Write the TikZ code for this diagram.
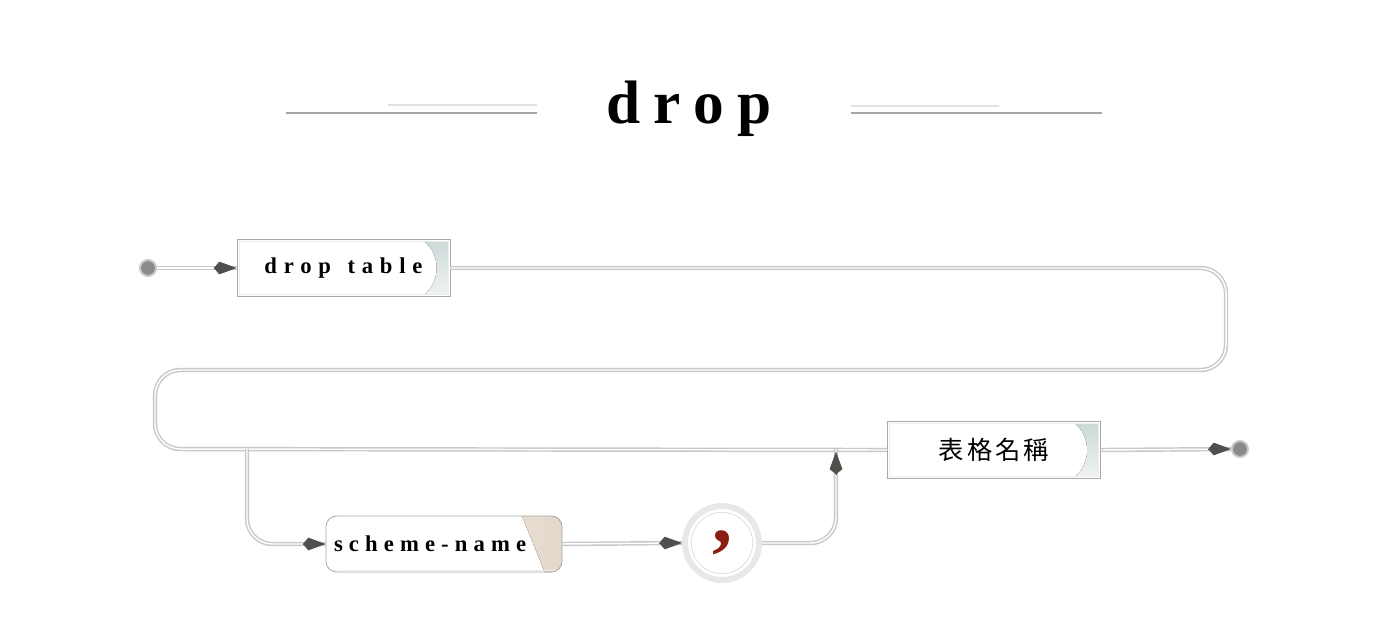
\documentclass[tikz,border=0pt]{standalone}
\usepackage{fontspec}
\setmainfont{Liberation Serif}
\newfontfamily\railfont[LetterSpace=30]{Liberation Serif}
\newfontfamily\headfont[LetterSpace=22]{Liberation Serif}
\newfontfamily\cjkfont[LetterSpace=12]{Noto Sans CJK TC}
\usetikzlibrary{arrows.meta,calc,shadings}

\definecolor{railgray}{HTML}{C8C8C8}
\definecolor{tipgray}{HTML}{4F504C}
\definecolor{dotgray}{HTML}{8A8A8A}
\definecolor{boxline}{HTML}{A8A8A8}
\definecolor{tealtint}{HTML}{CBD9D7}
\definecolor{sandtint}{HTML}{E5D7CB}
\definecolor{commared}{HTML}{8B1E12}

\tikzset{
  track/.style={draw=railgray, double=white, double distance=1.1pt,
    line width=1.1pt, rounded corners=19pt},
  tip/.style={-{Kite[length=17pt,width=9.5pt,inset=4pt]}, draw=tipgray,
    fill=tipgray, line width=0.4pt},
  termdot/.style={circle, fill=dotgray, draw=railgray, line width=1.5pt,
    minimum size=12pt, inner sep=0pt},
  titlerule/.style={line width=1.5pt, draw=gray!70},
  titlethin/.style={line width=1pt, draw=gray!22},
  keybox/.style={rectangle, draw=boxline, line width=0.6pt,
    minimum width=159.75pt, minimum height=42.75pt, inner sep=0pt,
    path picture={
      \fill[top color=tealtint, bottom color=tealtint!30]
        ($(path picture bounding box.north east)+(-19pt,-1.5pt)$)
        .. controls +(12pt,-10pt) and +(12pt,10pt) ..
        ($(path picture bounding box.south east)+(-19pt,1.5pt)$)
        -- ($(path picture bounding box.south east)+(-1.5pt,1.5pt)$)
        -- ($(path picture bounding box.north east)+(-1.5pt,-1.5pt)$) -- cycle;
      \draw[gray!15, line width=0.6pt]
        ($(path picture bounding box.north west)+(1.5pt,-1.5pt)$) rectangle
        ($(path picture bounding box.south east)+(-1.5pt,1.5pt)$);
    }},
  namebox/.style={rectangle, rounded corners=8pt, draw=boxline, line width=0.6pt,
    minimum width=177pt, minimum height=42pt, inner xsep=6pt,
    text width=165pt, align=left,
    path picture={
      \fill[sharp corners, left color=sandtint!35, right color=sandtint]
        ($(path picture bounding box.north east)+(-30pt,0pt)$)
        -- ($(path picture bounding box.south east)+(-13pt,0pt)$)
        -- (path picture bounding box.south east)
        -- (path picture bounding box.north east) -- cycle;
      \draw[sharp corners, gray!12, line width=0.6pt]
        ($(path picture bounding box.south west)+(0pt,1.5pt)$) --
        ($(path picture bounding box.south east)+(0pt,1.5pt)$);
    }},
  commaring/.style={circle, draw=gray!18, line width=4.5pt, minimum size=55.5pt,
    inner sep=0pt, text=commared,
    path picture={
      \draw[gray!35, line width=0.4pt] (path picture bounding box.center) circle (23pt);
    }},
}

\begin{document}
\begin{tikzpicture}[x=0.75pt, y=-0.75pt]
  \useasboundingbox (0,0) rectangle (1388,636);

  % heading
  \node[anchor=base] (title) at (689,123) {\headfont\bfseries\fontsize{46}{46}\selectfont drop};
  \draw[titlerule] (286,113) -- (537,113);
  \draw[titlethin] (388,105) -- (537,105);
  \draw[titlethin] (851,106) -- (999,106);
  \draw[titlerule] (851,113) -- (1102,113);

  % nodes
  \node[termdot] (start) at (148,268) {};
  \node[keybox] (droptable) at (343.5,268)
    {\railfont\bfseries\fontsize{17}{17}\selectfont drop\hspace{3pt} table};
  \node[keybox] (name) at (994,450)
    {\cjkfont\fontsize{19}{19}\selectfont 表格名稱};
  \node[termdot] (stop) at (1240,449) {};
  \node[namebox] (scheme) at (444,544)
    {\railfont\bfseries\fontsize{17}{17}\selectfont\addfontfeatures{LetterSpace=27}scheme-name};
  \node[commaring] (comma) at (722,543)
    {\bfseries\fontsize{60}{60}\selectfont ,};
  \coordinate (split) at (247,449);
  \coordinate (join) at (836,449);

  % rails
  \draw[track] (start) -- (droptable.west);
  \draw[track] (droptable.east) -- (1226,268) -- (1226,370)
    -- (155,370) -- (155,449) -- (name.west);
  \draw[track] (name.east) -- (stop);
  \draw[track] (split) |- (scheme.west);
  \draw[track] (scheme.east) -- (comma.west);
  \draw[track] (comma.east) -| (join);

  % arrow tips
  \draw[tip] ([xshift=-17pt]droptable.west) -- (droptable.west);
  \draw[tip] ([xshift=-17pt]stop.west) -- (stop.west);
  \draw[tip] ([xshift=-17pt]scheme.west) -- (scheme.west);
  \draw[tip] ([xshift=-17pt]comma.west) -- (comma.west);
  \draw[tip] ([yshift=-19pt]join) -- ([yshift=-2pt]join);
\end{tikzpicture}
\end{document}
